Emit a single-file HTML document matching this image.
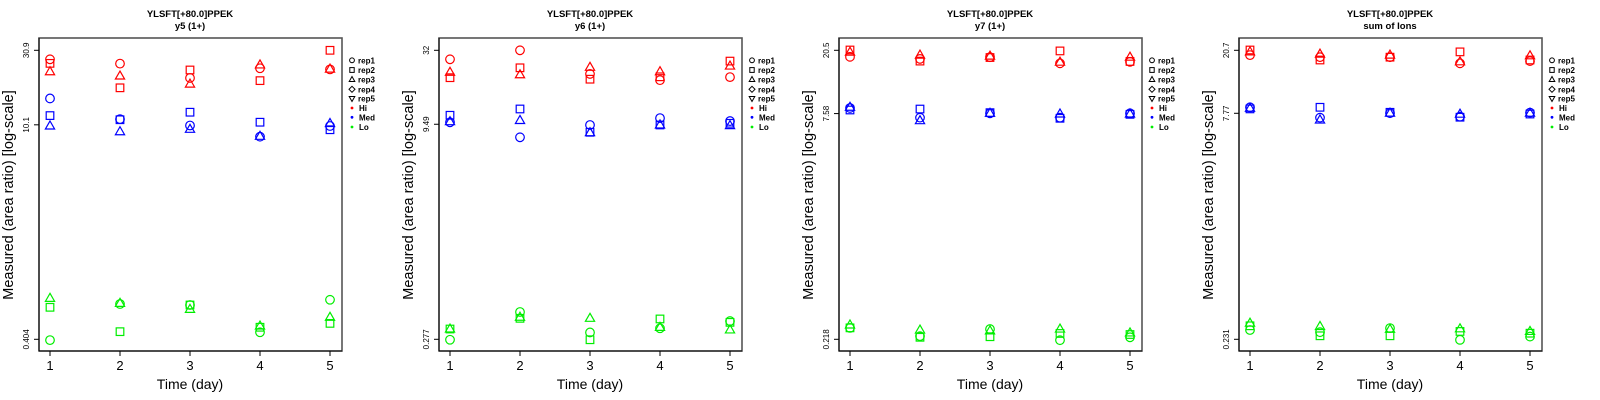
<!DOCTYPE html>
<html><head><meta charset="utf-8">
<style>
html,body{margin:0;padding:0;background:#fff;}
svg{display:block;font-family:"Liberation Sans",sans-serif;}
</style></head>
<body>
<svg id="chart" width="1600" height="400" viewBox="0 0 1600 400" xmlns="http://www.w3.org/2000/svg"></svg>
<script>
const days = [1, 2, 3, 4, 5];
const panelTitles = ["y5 (1+)", "y6 (1+)", "y7 (1+)", "sum of Ions"];
const peptide = "YLSFT[+80.0]PPEK";
const tickHi = [30.9, 32, 20.5, 20.7];
const tickMid = [10.1, 9.49, 7.58, 7.77];
const tickLo = [0.404, 0.277, 0.218, 0.231];
const levelNames = ["Hi", "Med", "Lo"];
const levelColors = ["#ff0000", "#0000ff", "#00ee00"];
const repNames = ["rep1", "rep2", "rep3", "rep4", "rep5"];
const p1Hi = [[27.0,25.3,20.4,23.6,23.2],[25.4,17.6,23.0,19.6,30.9],[22.4,21.0,18.6,24.8,23.3]];
const p1Med = [[15.0,11.0,10.0,8.45,9.92],[11.6,10.9,12.2,10.5,9.38],[9.92,9.1,9.44,8.5,10.3]];
const p1Lo = [[0.399,0.686,0.676,0.449,0.731],[0.653,0.453,0.676,0.484,0.513],[0.747,0.693,0.633,0.493,0.562]];
const p2Hi = [[27.6,32.0,21.7,19.6,20.6],[20.4,24.0,19.9,20.7,26.8],[22.3,21.4,24.2,22.5,24.7]];
const p2Med = [[9.8,7.66,9.38,10.5,10.0],[11.0,12.2,8.32,9.38,9.64],[9.9,10.1,8.26,9.38,9.28]];
const p2Lo = [[0.275,0.434,0.310,0.332,0.374],[0.328,0.391,0.275,0.387,0.366],[0.328,0.398,0.391,0.337,0.323]];
const p3Hi = [[18.5,17.9,18.4,16.7,17.1],[20.6,17.3,18.3,20.3,17.2],[19.9,19.0,18.7,17.0,18.4]];
const p3Med = [[8.28,7.11,7.61,7.11,7.61],[8.02,8.14,7.69,7.04,7.49],[8.37,6.78,7.61,7.53,7.53]];
const p3Lo = [[0.261,0.229,0.256,0.215,0.225],[0.261,0.225,0.227,0.239,0.235],[0.273,0.252,0.249,0.256,0.241]];
const p4Hi = [[19.2,18.6,18.6,16.9,17.5],[20.8,17.8,18.6,20.2,17.8],[20.2,19.5,19.2,17.3,19.0]];
const p4Med = [[8.53,7.26,7.78,7.37,7.85],[8.32,8.53,7.89,7.31,7.68],[8.40,7.00,7.78,7.66,7.78]];
const p4Lo = [[0.267,0.258,0.275,0.229,0.241],[0.285,0.244,0.244,0.261,0.254],[0.297,0.282,0.270,0.272,0.261]];
const panelData = [[p1Hi,p1Med,p1Lo],[p2Hi,p2Med,p2Lo],[p3Hi,p3Med,p3Lo],[p4Hi,p4Med,p4Lo]];

const NS = "http://www.w3.org/2000/svg";
const svg = document.getElementById("chart");
function mk(tag, attrs, parent, text) {
  const e = document.createElementNS(NS, tag);
  for (const k in attrs) e.setAttribute(k, attrs[k]);
  if (text !== undefined) e.textContent = text;
  (parent || svg).appendChild(e);
  return e;
}
const BX0 = 39, BX1 = 342, BY0 = 38, BY1 = 351;
const YT = 50.3, YB = 339.3;
function drawMarker(g, shape, cx, cy, color) {
  let el;
  if (shape === 0) el = mk("circle", {cx: cx, cy: cy, r: 4.3, fill: "none", stroke: color, "stroke-width": 1.2}, g);
  else if (shape === 1) el = mk("rect", {x: cx - 3.8, y: cy - 3.8, width: 7.6, height: 7.6, fill: "none", stroke: color, "stroke-width": 1.2}, g);
  else el = mk("polygon", {points: `${cx},${cy-5} ${cx+4.6},${cy+3} ${cx-4.6},${cy+3}`, fill: "none", stroke: color, "stroke-width": 1.2}, g);
  return el;
}
function legendSym(g, i, cx, cy) {
  const a = {fill: "none", stroke: "#000", "stroke-width": 1};
  if (i === 0) return mk("circle", Object.assign({cx: cx, cy: cy, r: 2.4}, a), g);
  if (i === 1) return mk("rect", Object.assign({x: cx - 2.2, y: cy - 2.4, width: 4.4, height: 4.8}, a), g);
  if (i === 2) return mk("polygon", Object.assign({points: `${cx},${cy-3} ${cx+2.8},${cy+2} ${cx-2.8},${cy+2}`}, a), g);
  if (i === 3) return mk("polygon", Object.assign({points: `${cx},${cy-3} ${cx+3},${cy} ${cx},${cy+3} ${cx-3},${cy}`}, a), g);
  return mk("polygon", Object.assign({points: `${cx},${cy+3} ${cx+2.8},${cy-2} ${cx-2.8},${cy-2}`}, a), g);
}
for (let p = 0; p < 4; p++) {
  const ox = p * 400;
  const g = mk("g", {transform: `translate(${ox},0)`});
  
  
  const lhi = Math.log10(tickHi[p]), llo = Math.log10(tickLo[p]);
  const ys = v => YB - (Math.log10(v) - llo) / (lhi - llo) * (YB - YT);
  const xs = d => 50 + (d - 1) * 70;
  const t1 = mk("text", {x: 190, y: 17, "text-anchor": "middle", "font-size": 9.5, "font-weight": "bold"}, g, peptide);
  
  
  const t2 = mk("text", {x: 190, y: 29, "text-anchor": "middle", "font-size": 9.5, "font-weight": "bold"}, g, panelTitles[p]);
  
  
  const box = mk("rect", {x: BX0, y: BY0, width: BX1 - BX0, height: BY1 - BY0, fill: "none", stroke: "#555", "stroke-width": 1.6}, g);
  
  
  mk("line", {x1: BX0, y1: BY1, x2: BX1, y2: BY1, stroke: "#000", "stroke-width": 1}, g);
  mk("line", {x1: BX0, y1: BY0, x2: BX0, y2: BY1, stroke: "#000", "stroke-width": 1}, g);
  [tickHi[p], tickMid[p], tickLo[p]].forEach(v => {
    const y = ys(v);
    mk("line", {x1: BX0 - 5, y1: y, x2: BX0, y2: y, stroke: "#000"}, g);
    const tl = mk("text", {x: 0, y: 0, transform: `translate(29,${y}) rotate(-90)`, "text-anchor": "middle", "font-size": 8}, g, String(v));
    
    
  });
  days.forEach(d => {
    const x = xs(d);
    mk("line", {x1: x, y1: BY1, x2: x, y2: BY1 + 5, stroke: "#000"}, g);
    const tl = mk("text", {x: x, y: 370, "text-anchor": "middle", "font-size": 13}, g, String(d));
    
    
  });
  const xt = mk("text", {x: 190, y: 389, "text-anchor": "middle", "font-size": 14}, g, "Time (day)");
  
  
  const yt = mk("text", {x: 0, y: 0, transform: "translate(13,195) rotate(-90)", "text-anchor": "middle", "font-size": 14.5}, g, "Measured (area ratio) [log-scale]");
  
  
  for (let l = 0; l < 3; l++) {
    for (let r = 0; r < 3; r++) {
      const vals = panelData[p][l][r];
      vals.forEach((v, i) => {
        const m = drawMarker(g, r, xs(days[i]), ys(v), levelColors[l]);
        
        
      });
    }
  }
  const lg = mk("g", {}, g);
  
  
  const ly = [60.3, 70, 79.5, 89.3, 98.5, 108, 117.3, 127];
  repNames.forEach((n, i) => {
    legendSym(lg, i, 352, ly[i]);
    const t = mk("text", {x: 358, y: ly[i] + 3, "font-size": 8, "font-weight": "bold"}, lg, n);
    
    
  });
  levelNames.forEach((n, i) => {
    const y = ly[5 + i];
    mk("circle", {cx: 352, cy: y, r: 1.4, fill: levelColors[i]}, lg);
    const t = mk("text", {x: 359, y: y + 3, "font-size": 8, "font-weight": "bold"}, lg, n);
    
    
  });
}
</script>
</body></html>
